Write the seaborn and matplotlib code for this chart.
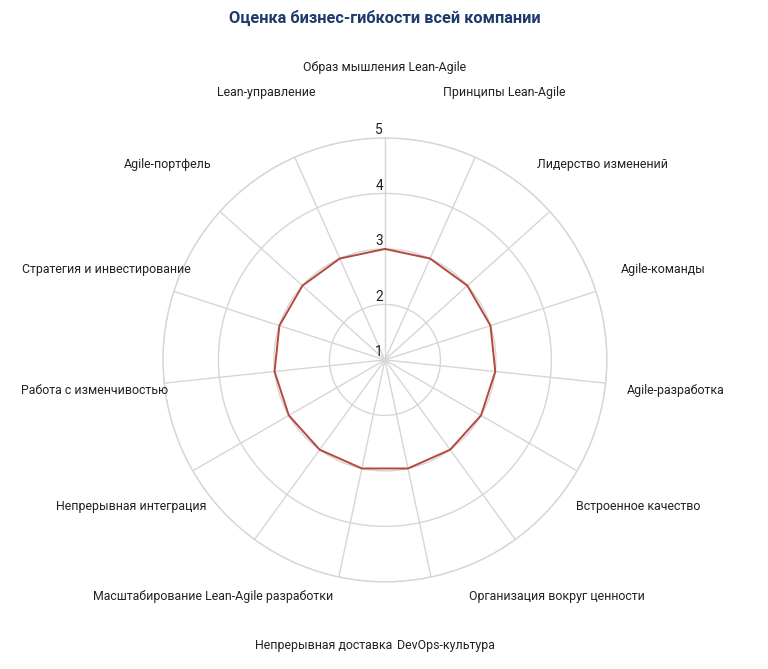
import numpy as np
import pandas as pd
import matplotlib
matplotlib.use("Agg")
import matplotlib.pyplot as plt
import seaborn as sns

categories = [
    "Образ мышления Lean-Agile",
    "Принципы Lean-Agile",
    "Лидерство изменений",
    "Agile-команды",
    "Agile-разработка",
    "Встроенное качество",
    "Организация вокруг ценности",
    "DevOps-культура",
    "Непрерывная доставка",
    "Масштабирование Lean-Agile разработки",
    "Непрерывная интеграция",
    "Работа с изменчивостью",
    "Стратегия и инвестирование",
    "Agile-портфель",
    "Lean-управление",
]
values = [3, 3, 3, 3, 3, 3, 3, 3, 3, 3, 3, 3, 3, 3, 3]
r_ticks = [1, 2, 3, 4, 5]
title = "Оценка бизнес-гибкости всей компании"

sns.set_theme(style="white")
plt.rcParams["font.family"] = ["Roboto", "DejaVu Sans"]

n = len(categories)
theta = np.arange(n) * 2 * np.pi / n
df = pd.DataFrame({
    "theta": np.append(theta, 2 * np.pi),
    "value": values + values[:1],
})

fig = plt.figure(figsize=(7.68, 6.69), dpi=100)
ax = fig.add_axes([0.2122, 0.130, 0.578, 0.664], projection="polar")
ax.set_theta_zero_location("N")
ax.set_theta_direction(-1)
ax.set_ylim(1, 5)

grid_c = "#d6d6d6"
ax.set_xticks(theta)
ax.set_xticklabels([])
ax.set_yticks(r_ticks)
ax.set_yticklabels([])
ax.grid(True, color=grid_c, linewidth=1.0)
ax.spines["polar"].set_color(grid_c)
ax.spines["polar"].set_linewidth(1.0)

sns.lineplot(data=df, x="theta", y="value", sort=False, ax=ax,
             color="#b5483f", linewidth=1.4, legend=False)
ax.set_xlabel("")
ax.set_ylabel("")

for t, lab in zip(theta, categories):
    ax.text(t, 6.27, lab, ha="center", va="center", fontsize=8.9,
            color="#222222", clip_on=False)

for r in r_ticks:
    ax.annotate(str(r), xy=(0, r), xytext=(-1.5, 0.5), textcoords="offset points",
                ha="right", va="bottom", fontsize=9.8, color="#222222",
                annotation_clip=False)

fig.text(0.501, 0.973, title, ha="center", va="center", fontsize=11.8,
         fontweight="bold", color="#1e3a6d")

fig.savefig("out.png", dpi=100, facecolor="white")
